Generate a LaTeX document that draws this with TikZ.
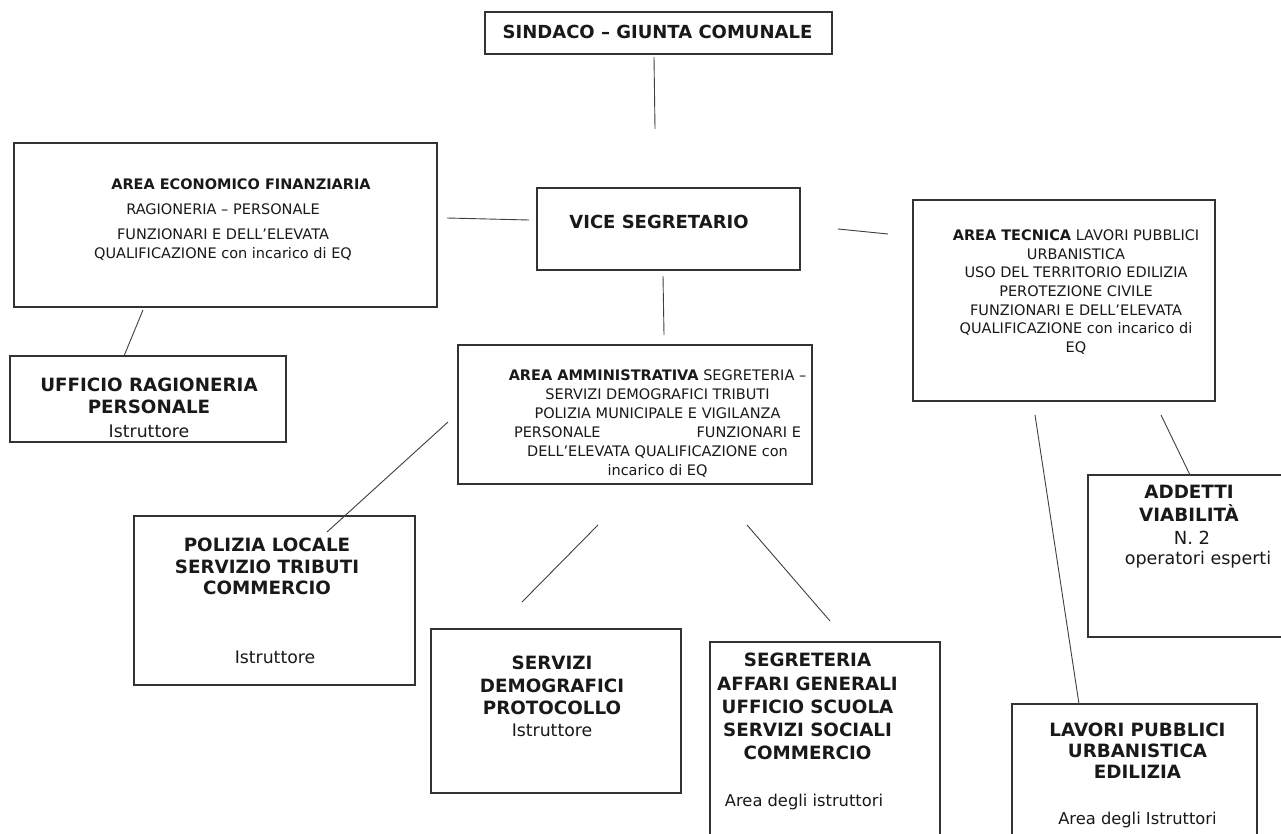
\documentclass[tikz,border=0pt]{standalone}
\usepackage{fontspec}
\setmainfont{DejaVu Sans}
\begin{document}
\begin{tikzpicture}[x=1pt,y=-1pt,
  box/.style={draw=black!80,line width=1.15pt,inner sep=0pt},
  conn/.style={draw=black!75,line width=0.9pt},
  txt/.style={inner sep=0pt,align=center,anchor=north,text=black!90},
  small/.style={font=\fontsize{14.5}{19}\selectfont},
  big/.style={font=\fontsize{18.3}{22}\selectfont}]
\clip (0,0) rectangle (1281,834);
\fill[white] (0,0) rectangle (1281,834);
% boxes
\node[box,minimum width=347,minimum height=42] (sind) at (658.5,33) {};
\node[box,minimum width=263,minimum height=82] (vice) at (668.5,229) {};
\node[box,minimum width=423,minimum height=164] (aef) at (225.5,225) {};
\node[box,minimum width=276,minimum height=86] (uff) at (148,399) {};
\node[box,minimum width=354,minimum height=139] (aam) at (635,414.5) {};
\node[box,minimum width=302,minimum height=201] (ate) at (1064,300.5) {};
\node[box,minimum width=281,minimum height=169] (pol) at (274.5,600.5) {};
\node[box,minimum width=250,minimum height=164] (sdem) at (556,711) {};
\node[box,minimum width=230,minimum height=220] (segr) at (825,752) {};
\node[box,minimum width=200,minimum height=162] (add) at (1188,556) {};
\node[box,minimum width=245,minimum height=160] (lav) at (1134.5,784) {};
% texts
\node[txt,font=\bfseries\fontsize{18}{20}\selectfont] (sind-t) at (657.5,25) {SINDACO – GIUNTA COMUNALE};
\node[txt,font=\bfseries\fontsize{18}{20}\selectfont] (vice-t) at (659,215) {VICE SEGRETARIO};
\node[txt,small] (aef-a) at (241,178.5) {\textbf{AREA ECONOMICO FINANZIARIA}};
\node[txt,small] (aef-b) at (223,203.5) {RAGIONERIA – PERSONALE\\[6pt]FUNZIONARI E DELL’ELEVATA\\QUALIFICAZIONE con incarico di EQ};
\node[txt,big] (uff-t) at (149,378) {\textbf{UFFICIO RAGIONERIA}\\\textbf{PERSONALE}\\[2pt]{\fontsize{17.3}{20}\selectfont Istruttore}};
\node[txt,small] (aam-t) at (657.5,369.5) {\textbf{AREA AMMINISTRATIVA} SEGRETERIA –\\SERVIZI DEMOGRAFICI TRIBUTI\\POLIZIA MUNICIPALE E VIGILANZA\\PERSONALE\hspace{96pt}FUNZIONARI E\\DELL’ELEVATA QUALIFICAZIONE con\\incarico di EQ};
\node[txt,font=\fontsize{14.5}{18.7}\selectfont] (ate-t) at (1076,229.5) {\textbf{AREA TECNICA} LAVORI PUBBLICI\\URBANISTICA\\USO DEL TERRITORIO EDILIZIA\\PEROTEZIONE CIVILE\\FUNZIONARI E DELL’ELEVATA\\QUALIFICAZIONE con incarico di\\EQ};
\node[txt,font=\bfseries\fontsize{18.3}{21.5}\selectfont] (pol-t) at (267,538) {POLIZIA LOCALE\\SERVIZIO TRIBUTI\\COMMERCIO};
\node[txt,font=\fontsize{17.3}{20}\selectfont] (pol-i) at (275,650.5) {Istruttore};
\node[txt,font=\fontsize{18.3}{22.5}\selectfont] (sdem-t) at (552,656) {\textbf{SERVIZI}\\\textbf{DEMOGRAFICI}\\\textbf{PROTOCOLLO}\\[-1pt]{\fontsize{17.3}{20}\selectfont Istruttore}};
\node[txt,font=\bfseries\fontsize{18.3}{23.3}\selectfont] (segr-t) at (807.5,653) {SEGRETERIA\\AFFARI GENERALI\\UFFICIO SCUOLA\\SERVIZI SOCIALI\\COMMERCIO};
\node[txt,font=\fontsize{16.3}{20}\selectfont] (segr-a) at (804,794) {Area degli istruttori};
\node[txt,font=\bfseries\fontsize{18.3}{23}\selectfont] (add-t) at (1189,485) {ADDETTI\\VIABILITÀ};
\node[txt,font=\fontsize{18}{21}\selectfont] (add-n) at (1192,531) {N. 2\\[-1pt]{\fontsize{17.5}{20}\selectfont\hspace*{12pt}operatori esperti}};
\node[txt,font=\bfseries\fontsize{18.3}{21}\selectfont] (lav-t) at (1137.5,723) {LAVORI PUBBLICI\\URBANISTICA\\EDILIZIA};
\node[txt,font=\fontsize{16.3}{20}\selectfont] (lav-a) at (1137.5,812) {Area degli Istruttori};
% connector end points
\coordinate (sv1) at (654,57);  \coordinate (sv2) at (655,129);
\coordinate (ev1) at (447,218); \coordinate (ev2) at (529,220);
\coordinate (vt1) at (838,229); \coordinate (vt2) at (888,234);
\coordinate (eu1) at (143,310); \coordinate (eu2) at (124,356);
\coordinate (va1) at (663,276); \coordinate (va2) at (664,335);
\coordinate (ap1) at (448,422); \coordinate (ap2) at (327,532);
\coordinate (as1) at (598,525); \coordinate (as2) at (522,602);
\coordinate (ag1) at (747,525); \coordinate (ag2) at (830,621);
\coordinate (tl1) at (1035,415); \coordinate (tl2) at (1079,704);
\coordinate (td1) at (1161,415); \coordinate (td2) at (1190,475);
\draw[conn] (sv1) -- (sv2);
\draw[conn] (ev1) -- (ev2);
\draw[conn] (vt1) -- (vt2);
\draw[conn] (eu1) -- (eu2);
\draw[conn] (va1) -- (va2);
\draw[conn] (ap1) -- (ap2);
\draw[conn] (as1) -- (as2);
\draw[conn] (ag1) -- (ag2);
\draw[conn] (tl1) -- (tl2);
\draw[conn] (td1) -- (td2);
\end{tikzpicture}
\end{document}
